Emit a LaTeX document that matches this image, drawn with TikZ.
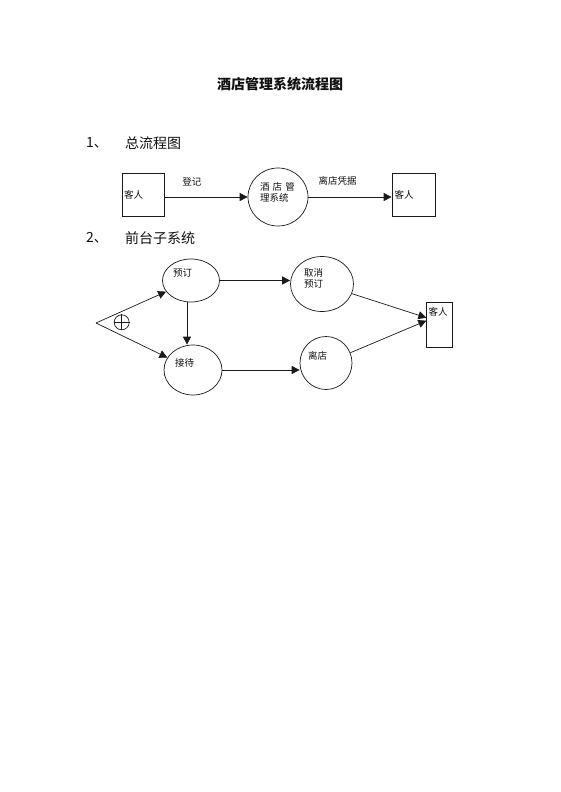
\documentclass[tikz,border=0pt]{standalone}
\usepackage{fontspec}
\setmainfont{Noto Sans CJK SC}
\usetikzlibrary{arrows.meta, positioning, shapes.geometric, calc}
\definecolor{lineclr}{HTML}{1A1A1A}
\definecolor{txtclr}{HTML}{111111}
\tikzset{
  title/.style={
    text=txtclr, font=\fontsize{14}{16}\selectfont\bfseries, inner sep=0pt
  },
  head/.style={
    text=txtclr, font=\fontsize{14}{16}\selectfont, inner sep=0pt
  },
  actor/.style={
    rectangle, draw=lineclr, line width=0.7pt,
    text=txtclr, font=\fontsize{9.5}{11}\selectfont,
    inner xsep=2pt, inner ysep=0pt, text width=38pt, align=left
  },
  proc/.style={
    ellipse, draw=lineclr, line width=0.7pt,
    text=txtclr, font=\fontsize{9.5}{11}\selectfont,
    inner sep=0pt, text width=36pt, align=left, text depth=15pt
  },
  xor/.style={circle, draw=lineclr, line width=0.7pt, minimum size=15pt, inner sep=0pt},
  arr/.style={-{Triangle[length=8pt, width=8pt]}, line width=0.7pt, lineclr},
  lbl/.style={font=\fontsize{9.5}{11}\selectfont, text=txtclr, inner sep=0pt},
}
\begin{document}
\begin{tikzpicture}[x=1pt, y=-1pt]
\useasboundingbox (0,0) rectangle (560,792);

% --- Title and headings ---
\node[title] (title) at (280,84) {酒店管理系统流程图};
\node[head, anchor=west] (num1) at (86,143) {1、};
\node[head, anchor=west] (head1) at (125,143) {总流程图};
\node[head, anchor=west] (num2) at (86,238) {2、};
\node[head, anchor=west] (head2) at (125,238) {前台子系统};

% --- Overall flow ---
\node[actor, minimum width=42pt, minimum height=43pt] (guestin) at (143,194.5) {客人};
\node[proc, minimum width=60pt, minimum height=58pt, text depth=22pt] (hotel) at (278,197) {酒 店 管\\理系统};
\node[actor, minimum width=43pt, minimum height=43pt] (guestout) at (413.5,194.5) {客人};

\draw[arr] (guestin.east |- hotel.west) -- node[lbl, above=11pt, pos=0.33] {登记} (hotel.west);
\draw[arr] (hotel.east) -- node[lbl, above=11pt, pos=0.35] {离店凭据} (hotel.east -| guestout.west);

% --- Front desk ---
\coordinate (fork) at (96,323);
\node[xor] (mix) at (121.7,322.3) {};
\draw[lineclr, line width=0.7pt] (mix.north) -- (mix.south) (mix.west) -- (mix.east);

\node[proc, minimum width=57pt, minimum height=43pt] (book) at (191,280.5) {预订};
\node[proc, minimum width=58pt, minimum height=50pt] (recv) at (193,370) {接待};
\node[proc, minimum width=63pt, minimum height=55pt, text depth=22pt] (cancel) at (322,284) {取消\\预订};
\node[proc, minimum width=52pt, minimum height=53pt] (leave) at (326,363) {离店};
\node[actor, minimum width=25.6pt, minimum height=45pt, text width=22pt, inner xsep=1.5pt, text depth=27pt] (guestend) at (439.5,324.7) {客人};

\draw[arr] (fork) -- (book);
\draw[arr] (fork) -- (recv);
\draw[arr] ([xshift=-4pt]book.south) -- ([xshift=-4pt]book.south |- recv.north);
\draw[arr] (book.east) -- (book.east -| cancel.west);
\draw[arr] (recv.east) -- (recv.east -| leave.west);
\draw[arr] (cancel) -- ([yshift=7pt]guestend.west);
\draw[arr] (leave) -- ([yshift=4pt]guestend.west);

\end{tikzpicture}
\end{document}
